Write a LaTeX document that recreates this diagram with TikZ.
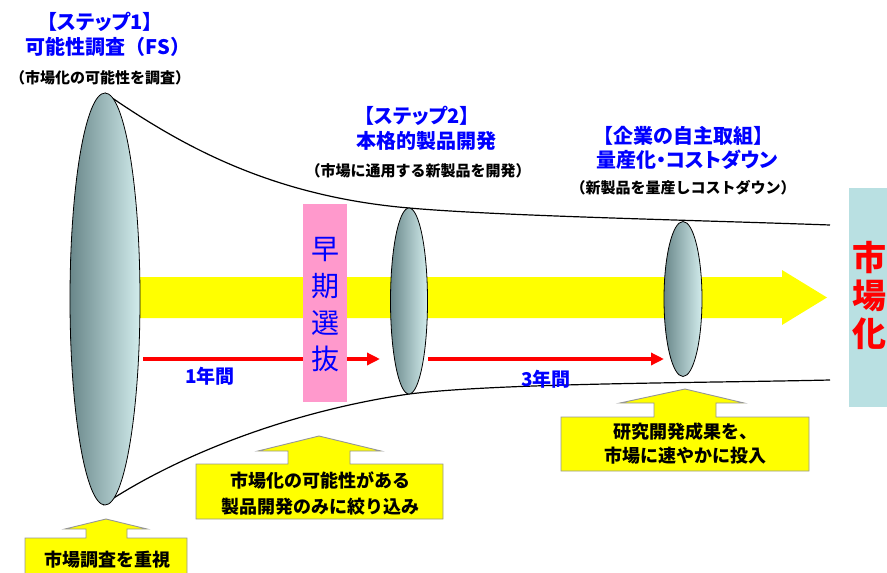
\documentclass[tikz,border=0pt]{standalone}
\usepackage{fontspec}
\setmainfont{Noto Sans CJK JP}[BoldFont={Noto Sans CJK JP Black}]
\newfontfamily\jpp{Noto Sans CJK JP}[BoldFont={Noto Sans CJK JP Black},RawFeature=+palt]
\usetikzlibrary{shapes.geometric,arrows.meta}
\definecolor{tblue}{RGB}{0,0,255}
\definecolor{tred}{RGB}{255,0,0}
\definecolor{tyellow}{RGB}{255,255,0}
\definecolor{tpink}{RGB}{255,153,204}
\definecolor{tcyan}{RGB}{185,224,226}
\definecolor{edark}{RGB}{105,135,138}
\definecolor{elight}{RGB}{210,236,236}
\definecolor{cgray}{RGB}{150,150,150}
\tikzset{
  btitle/.style={text=tblue, font=\bfseries\fontsize{20}{22}\selectfont, inner sep=0pt},
  bsub/.style={text=black, font=\bfseries\fontsize{15}{17}\selectfont, inner sep=0pt},
  yrlabel/.style={text=tblue, font=\bfseries\fontsize{19}{21}\selectfont, inner sep=0pt},
  calltext/.style={text=black, font=\bfseries\fontsize{18}{26}\selectfont, inner sep=0pt, align=center},
  lens/.style={ellipse, draw=black, line width=0.8pt, inner sep=0pt, left color=edark, right color=elight},
  funnel/.style={draw=black, line width=1.2pt},
  redarrow/.style={draw=tred, line width=4pt, -{Triangle[length=13pt,width=12pt]}},
  callout/.style={fill=tyellow, draw=cgray, line width=0.9pt},
}
\begin{document}
\begin{tikzpicture}[x=1pt,y=-1pt]
\useasboundingbox (0,0) rectangle (887,573);

% lenses (positions)
\coordinate (e1c) at (105,299);
\coordinate (e2c) at (409,301);
\coordinate (e3c) at (683,299);

% funnel
\coordinate (ftop0) at (105,93);
\coordinate (fbot0) at (103,505);
\coordinate (ftop2) at (409,208);
\coordinate (fbot2) at (409,394);
\coordinate (ftopE) at (830,225);
\coordinate (fbotE) at (830,380);
\draw[funnel] (ftop0) .. controls (180,145) and (270,196) .. (ftop2)
  .. controls (500,216) and (690,220) .. (ftopE);
\draw[funnel] (fbot0) .. controls (170,460) and (280,413) .. (fbot2)
  .. controls (500,383) and (700,383) .. (fbotE);

% big yellow arrow
\fill[tyellow] (105,277) -- (782,277) -- (782,270) -- (827,297.5) -- (782,325) -- (782,318) -- (105,318) -- cycle;

% red arrows
\coordinate (r1s) at (143,359);
\coordinate (r1e) at (380,359);
\coordinate (r2s) at (428,359);
\coordinate (r2e) at (664,359);
\draw[redarrow] (r1s) -- (r1e);
\draw[redarrow] (r2s) -- (r2e);

% pink box
\node[fill=tpink, minimum width=44pt, minimum height=198pt, inner sep=0pt] (early) at (325,303) {};
\node[text=tblue, font=\mdseries\fontsize{28}{36.7}\selectfont, align=center, inner sep=0pt] (earlyt) at (325,305) {早\\期\\選\\抜};

% lenses
\node[lens, minimum width=70pt, minimum height=412pt] (e1) at (e1c) {};
\node[lens, minimum width=37pt, minimum height=186pt] (e2) at (e2c) {};
\node[lens, minimum width=38pt, minimum height=155pt] (e3) at (e3c) {};

% market box
\node[fill=tcyan, minimum width=38pt, minimum height=219pt, inner sep=0pt, anchor=north west] (mkt) at (849,188) {};
\node[text=tred, font=\bfseries\fontsize{34}{38}\selectfont, align=center, inner sep=0pt] (mktt) at (869,295) {市\\場\\化};

% year labels
\node[yrlabel] (y1) at (210,376) {1年間};
\node[yrlabel] (y3) at (546,379) {3年間};

% titles
\node[btitle] (t1a) at (100,22) {【{\jpp ステップ1}】};
\node[btitle] (t1b) at (108,47) {可能性調査（FS）};
\node[bsub] (t1c) at (100,78) {（市場化の可能性を調査）};
\node[btitle] (t2a) at (417,116) {【{\jpp ステップ2}】};
\node[btitle] (t2b) at (426,141) {本格的製品開発};
\node[bsub] (t2c) at (418,171) {（市場に通用する新製品を開発）};
\node[btitle] (t3a) at (683,136) {【企業の自主取組】};
\node[btitle] (t3b) at (687,160) {量産化{\jpp ・コストダウン}};
\node[bsub] (t3c) at (683,188) {（新製品を量産しコストダウン）};

% callouts
\draw[callout] (25,580) -- (25,538) -- (86,538) -- (86,529) -- (65,529) -- (106,519) -- (147,529) -- (127,529) -- (127,538) -- (187,538) -- (187,580) -- cycle;
\node[calltext] (c1) at (107,560) {市場調査を重視};

\draw[callout] (196,519) -- (196,464) -- (288,464) -- (288,451) -- (258,451) -- (319,436) -- (381,451) -- (350,451) -- (350,464) -- (443,464) -- (443,519) -- cycle;
\node[calltext] (c2) at (320,493) {市場化の可能性がある\\製品開発のみに絞り込み};

\draw[callout] (561,471) -- (561,417) -- (654,417) -- (654,403) -- (620,403) -- (685,389) -- (744,403) -- (716,403) -- (716,417) -- (809,417) -- (809,471) -- cycle;
\node[calltext, font=\bfseries\fontsize{18}{24}\selectfont] (c3) at (685,444) {研究開発成果を、\\市場に速やかに投入};
\end{tikzpicture}
\end{document}
